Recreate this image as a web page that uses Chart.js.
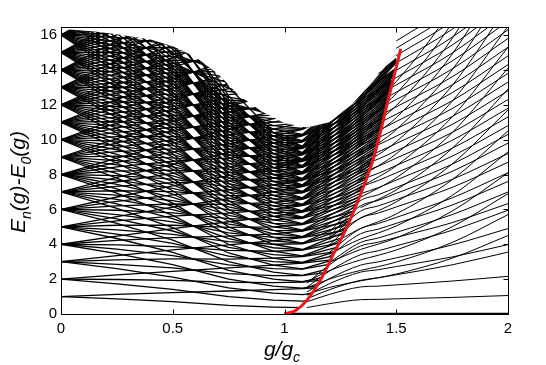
<!DOCTYPE html>
<html>
<head>
<meta charset="utf-8">
<script src="https://cdn.jsdelivr.net/npm/chart.js@4.4.1/dist/chart.umd.min.js"></script>
<style>
html, body { margin: 0; padding: 0; background: #fff; }
</style>
</head>
<body>
<canvas id="myChart" width="546" height="365"></canvas>
<script>
// g/gc values where the spectrum lines were read (left part, normal phase)
var gLeft = [0, 0.25, 0.5, 0.75, 0.95, 1.08, 1.25, 1.5];

// lines grouped by the level they leave from (photon-like excitations 0..16)
var up0 = [
  [1,0.87,0.71,0.5,0.4,0.37,0.46,0.6],
  [2,1.73,1.41,1,0.8,0.74,0.92,1.2],
  [3,2.6,2.12,1.5,1.2,1.11,1.38,1.8],
  [4,3.46,2.83,2,1.6,1.48,1.84,2.4],
  [5,4.33,3.54,2.5,2,1.85,2.3,3],
  [6,5.2,4.24,3,2.4,2.22,2.76,3.6],
  [7,6.06,4.95,3.5,2.8,2.59,3.22,4.2],
  [8,6.93,5.66,4,3.2,2.96,3.68,4.8],
  [9,7.79,6.36,4.5,3.6,3.33,4.14,5.4],
  [10,8.66,7.07,5,4,3.7,4.6,6],
  [11,9.53,7.78,5.5,4.4,4.07,5.06,6.6],
  [12,10.39,8.48,6,4.8,4.44,5.52,7.2],
  [13,11.26,9.19,6.5,5.2,4.81,5.98,7.8],
  [14,12.12,9.9,7,5.6,5.18,6.44,8.4],
  [15,12.99,10.61,7.5,6,5.55,6.9,9],
  [16,13.86,11.31,8,6.4,5.92,7.36,9.6],
  [17,14.72,12.02,8.5,6.8,6.29,7.82,10.2],
  [18,15.59,12.73,9,7.2,6.66,8.28,10.8],
  [19,16.45,13.43,9.5,7.6,7.03,8.74,11.4],
  [20,17.32,14.14,10,8,7.4,9.2,12],
  [21,18.19,14.85,10.5,8.4,7.77,9.66,12.6],
  [22,19.05,15.55,11,8.8,8.14,10.12,13.2],
  [23,19.92,16.26,11.5,9.2,8.51,10.58,13.8],
  [24,20.78,16.97,12,9.6,8.88,11.04,14.4],
  [25,21.65,17.68,12.5,10,9.25,11.5,15],
  [26,22.52,18.38,13,10.4,9.62,11.96,15.6]
];
var up1 = [
  [1,1.12,1.23,1.32,1.4,1.46,1.58,1.85],
  [2,1.98,1.93,1.82,1.8,1.83,2.04,2.45],
  [3,2.85,2.64,2.32,2.2,2.2,2.5,3.05],
  [4,3.72,3.35,2.82,2.6,2.57,2.96,3.65],
  [5,4.58,4.05,3.32,3,2.94,3.42,4.25],
  [6,5.45,4.76,3.82,3.4,3.31,3.88,4.85],
  [7,6.32,5.47,4.32,3.8,3.68,4.34,5.45],
  [8,7.18,6.17,4.82,4.2,4.05,4.8,6.05],
  [9,8.05,6.88,5.32,4.6,4.42,5.26,6.65],
  [10,8.91,7.59,5.82,5,4.79,5.72,7.25],
  [11,9.78,8.3,6.32,5.4,5.16,6.18,7.85],
  [12,10.65,9,6.82,5.8,5.53,6.64,8.45],
  [13,11.51,9.71,7.32,6.2,5.9,7.1,9.05],
  [14,12.38,10.42,7.82,6.6,6.27,7.56,9.65],
  [15,13.24,11.12,8.32,7,6.64,8.02,10.25],
  [16,14.11,11.83,8.82,7.4,7.01,8.48,10.85],
  [17,14.98,12.54,9.32,7.8,7.38,8.94,11.45],
  [18,15.84,13.24,9.82,8.2,7.75,9.4,12.05],
  [19,16.71,13.95,10.32,8.6,8.12,9.86,12.65],
  [20,17.57,14.66,10.82,9,8.49,10.32,13.25],
  [21,18.44,15.37,11.32,9.4,8.86,10.78,13.85],
  [22,19.3,16.07,11.82,9.8,9.23,11.24,14.45],
  [23,20.17,16.78,12.32,10.2,9.6,11.7,15.05]
];
var up2 = [
  [2,2.24,2.45,2.65,2.8,2.92,3.16,3.7],
  [3,3.1,3.16,3.15,3.2,3.29,3.62,4.3],
  [4,3.97,3.86,3.65,3.6,3.66,4.08,4.9],
  [5,4.83,4.57,4.15,4,4.03,4.54,5.5],
  [6,5.7,5.28,4.65,4.4,4.4,5,6.1],
  [7,6.57,5.99,5.15,4.8,4.77,5.46,6.7],
  [8,7.43,6.69,5.65,5.2,5.14,5.92,7.3],
  [9,8.3,7.4,6.15,5.6,5.51,6.38,7.9],
  [10,9.16,8.11,6.65,6,5.88,6.84,8.5],
  [11,10.03,8.81,7.15,6.4,6.25,7.3,9.1],
  [12,10.9,9.52,7.65,6.8,6.62,7.76,9.7],
  [13,11.76,10.23,8.15,7.2,6.99,8.22,10.3],
  [14,12.63,10.93,8.65,7.6,7.36,8.68,10.9],
  [15,13.49,11.64,9.15,8,7.73,9.14,11.5],
  [16,14.36,12.35,9.65,8.4,8.1,9.6,12.1],
  [17,15.23,13.06,10.15,8.8,8.47,10.06,12.7],
  [18,16.09,13.76,10.65,9.2,8.84,10.52,13.3],
  [19,16.96,14.47,11.15,9.6,9.21,10.98,13.9],
  [20,17.82,15.18,11.65,10,9.58,11.44,14.5],
  [21,18.69,15.88,12.15,10.4,9.95,11.9,15.1]
];
var up3 = [
  [3,3.35,3.68,3.97,4.2,4.38,4.74,5.55],
  [4,4.22,4.38,4.47,4.6,4.75,5.2,6.15],
  [5,5.09,5.09,4.97,5,5.12,5.66,6.75],
  [6,5.95,5.8,5.47,5.4,5.49,6.12,7.35],
  [7,6.82,6.5,5.97,5.8,5.86,6.58,7.95],
  [8,7.68,7.21,6.47,6.2,6.23,7.04,8.55],
  [9,8.55,7.92,6.97,6.6,6.6,7.5,9.15],
  [10,9.42,8.62,7.47,7,6.97,7.96,9.75],
  [11,10.28,9.33,7.97,7.4,7.34,8.42,10.35],
  [12,11.15,10.04,8.47,7.8,7.71,8.88,10.95],
  [13,12.01,10.75,8.97,8.2,8.08,9.34,11.55],
  [14,12.88,11.45,9.47,8.6,8.45,9.8,12.15],
  [15,13.75,12.16,9.97,9,8.82,10.26,12.75],
  [16,14.61,12.87,10.47,9.4,9.19,10.72,13.35],
  [17,15.48,13.57,10.97,9.8,9.56,11.18,13.95],
  [18,16.34,14.28,11.47,10.2,9.93,11.64,14.55],
  [19,17.21,14.99,11.97,10.6,10.3,12.1,15.15]
];
var up4 = [
  [4,4.47,4.9,5.29,5.6,5.84,6.32,7.4],
  [5,5.34,5.61,5.79,6,6.21,6.78,8],
  [6,6.2,6.31,6.29,6.4,6.58,7.24,8.6],
  [7,7.07,7.02,6.79,6.8,6.95,7.7,9.2],
  [8,7.94,7.73,7.29,7.2,7.32,8.16,9.8],
  [9,8.8,8.44,7.79,7.6,7.69,8.62,10.4],
  [10,9.67,9.14,8.29,8,8.06,9.08,11],
  [11,10.53,9.85,8.79,8.4,8.43,9.54,11.6],
  [12,11.4,10.56,9.29,8.8,8.8,10,12.2],
  [13,12.27,11.26,9.79,9.2,9.17,10.46,12.8],
  [14,13.13,11.97,10.29,9.6,9.54,10.92,13.4],
  [15,14,12.68,10.79,10,9.91,11.38,14],
  [16,14.86,13.38,11.29,10.4,10.28,11.84,14.6],
  [17,15.73,14.09,11.79,10.8,10.65,12.3,15.2]
];
var up5 = [
  [5,5.59,6.13,6.62,7,7.3,7.9,9.25],
  [6,6.46,6.83,7.12,7.4,7.67,8.36,9.85],
  [7,7.32,7.54,7.62,7.8,8.04,8.82,10.45],
  [8,8.19,8.25,8.12,8.2,8.41,9.28,11.05],
  [9,9.05,8.95,8.62,8.6,8.78,9.74,11.65],
  [10,9.92,9.66,9.12,9,9.15,10.2,12.25],
  [11,10.79,10.37,9.62,9.4,9.52,10.66,12.85],
  [12,11.65,11.07,10.12,9.8,9.89,11.12,13.45],
  [13,12.52,11.78,10.62,10.2,10.26,11.58,14.05],
  [14,13.38,12.49,11.12,10.6,10.63,12.04,14.65],
  [15,14.25,13.2,11.62,11,11,12.5,15.25],
  [16,15.12,13.9,12.12,11.4,11.37,12.96,15.85]
];
var up6 = [
  [6,6.71,7.35,7.94,8.4,8.76,9.48,11.1],
  [7,7.57,8.06,8.44,8.8,9.13,9.94,11.7],
  [8,8.44,8.76,8.94,9.2,9.5,10.4,12.3],
  [9,9.31,9.47,9.44,9.6,9.87,10.86,12.9],
  [10,10.17,10.18,9.94,10,10.24,11.32,13.5],
  [11,11.04,10.89,10.44,10.4,10.61,11.78,14.1],
  [12,11.9,11.59,10.94,10.8,10.98,12.24],
  [13,12.77,12.3,11.44,11.2,11.35],
  [14,13.64,13.01,11.94,11.6,11.72],
  [15,14.5,13.71,12.44,12,12.09],
  [16,15.37,14.42,12.94,12.4]
];
var up7 = [
  [7,7.83,8.58,9.26,9.8,10.22,11.06,12.95],
  [8,8.69,9.28,9.76,10.2,10.59,11.52,13.55],
  [9,9.56,9.99,10.26,10.6,10.96,11.98],
  [10,10.42,10.7,10.76,11,11.33],
  [11,11.29,11.4,11.26,11.4,11.7],
  [12,12.16,12.11,11.76,11.8,12.07],
  [13,13.02,12.82,12.26,12.2],
  [14,13.89,13.52,12.76,12.6],
  [15,14.75,14.23,13.26,13],
  [16,15.62,14.94,13.76,13.4]
];
var up8 = [
  [8,8.94,9.8,10.58,11.2,11.68],
  [9,9.81,10.51,11.08,11.6],
  [10,10.68,11.21,11.58,12],
  [11,11.54,11.92,12.08,12.4],
  [12,12.41,12.63,12.58,12.8],
  [13,13.27,13.34,13.08],
  [14,14.14,14.04,13.58],
  [15,15.01,14.75,14.08],
  [16,15.87,15.46,14.58]
];
var up9 = [
  [9,10.06,11.03,11.91,12.6],
  [10,10.93,11.73,12.41],
  [11,11.79,12.44,12.91],
  [12,12.66,13.15,13.41],
  [13,13.53,13.85,13.91],
  [14,14.39,14.56,14.41],
  [15,15.26,15.27,14.91],
  [16,16.12,15.97,15.41]
];
var up10 = [
  [10,11.18,12.25,13.23],
  [11,12.05,12.96,13.73],
  [12,12.91,13.66,14.23],
  [13,13.78,14.37,14.73],
  [14,14.64,15.08,15.23],
  [15,15.51,15.79,15.73],
  [16,16.38,16.49,16.23]
];
var up11 = [
  [11,12.3,13.48,14.55],
  [12,13.16,14.18,15.05],
  [13,14.03,14.89,15.55],
  [14,14.9,15.6,16.05],
  [15,15.76,16.3,16.55],
  [16,16.63,17.01]
];
var up12 = [
  [12,13.42,14.7,15.88],
  [13,14.28,15.41],
  [14,15.15,16.11],
  [15,16.01,16.82],
  [16,16.88,17.53]
];
var up13 = [
  [13,14.53,15.93],
  [14,15.4,16.63],
  [15,16.27,17.34],
  [16,17.13,18.05]
];
var up14 = [[14,15.65,17.15],[15,16.52,17.86],[16,17.39,18.56]];
var up15 = [[15,16.77,18.38],[16,17.64,19.08]];
var up16 = [[16,17.89,19.6]];

// right part (past the red curve), sparse lines
var gRight = [1.1, 1.2, 1.34, 1.42, 1.5, 1.75, 2.0];
var slowSet = [
  [0.37,0.59,0.82,0.84,0.87,0.95,1.06],
  [0.7,1.12,1.55,1.6,1.67,1.89,2.16],
  [0.87,1.39,1.93,2.08,2.25,2.82,3.55],
  [1.08,1.73,2.4,2.54,2.72,3.27,3.98],
  [1.26,2.02,2.8,2.99,3.22,3.96,4.9],
  [1.53,2.45,3.4,3.63,3.91,4.8,5.95],
  [1.76,2.81,3.9,4.12,4.39,5.24,6.33],
  [null,2.95,4.1,4.36,4.68,5.7,7],
  [null,3.31,4.6,4.87,5.2,6.25,7.6],
  [null,3.53,4.9,5.19,5.54,6.66,8.1],
  [null,3.96,5.5,5.79,6.14,7.26,8.7],
  [null,4.25,5.9,6.2,6.56,7.72,9.2],
  [null,4.46,6.2,6.52,6.92,8.18,9.8],
  [null,4.68,6.5,6.84,7.26,8.59,10.3],
  [null,null,6.9,7.25,7.68,9.05,10.8],
  [null,null,7.3,7.66,8.1,9.5,11.3],
  [null,null,7.7,8.07,8.52,9.96,11.8],
  [null,null,8.1,8.48,8.94,10.41,12.3],
  [null,null,8.5,8.89,9.36,10.87,12.8],
  [null,null,8.9,9.3,9.78,11.32,13.3],
  [null,null,9.3,9.71,10.2,11.78,13.8],
  [null,null,9.7,10.11,10.62,12.23,14.3],
  [null,null,null,10.52,11.04,12.69,14.8],
  [null,null,null,10.93,11.46,13.14,15.3],
  [null,null,null,11.34,11.88,13.6,15.8],
  [null,null,null,11.75,12.3,14.05,16.3],
  [null,null,null,12.16,12.72,14.51,16.8],
  [null,null,null,12.57,13.14,14.96,17.3],
  [null,null,null,12.98,13.56,15.42,17.8],
  [null,null,null,13.39,13.98,15.87,18.3],
  [null,null,null,13.8,14.4,16.33,18.8],
  [null,null,null,null,14.82,16.78,19.3],
  [null,null,null,null,15.24,17.24,19.8],
  [null,null,null,null,15.66,17.69,20.3]
];
var steepSet = [
  [1.14,1.52,1.9,2.08,2.29,3.2,4.5],
  [1.5,2,2.5,2.72,2.98,4.1,5.7],
  [1.86,2.48,3.1,3.37,3.67,5,6.9],
  [null,2.96,3.7,4.01,4.36,5.9,8.1],
  [null,3.44,4.3,4.65,5.05,6.8,9.3],
  [null,3.92,4.9,5.29,5.74,7.7,10.5],
  [null,4.4,5.5,5.93,6.43,8.6,11.7],
  [null,null,6.1,6.58,7.12,9.5,12.9],
  [null,null,6.7,7.22,7.81,10.4,14.1],
  [null,null,7.3,7.86,8.5,11.3,15.3],
  [null,null,7.9,8.5,9.19,12.2,16.5],
  [null,null,8.5,9.14,9.88,13.1,17.7],
  [null,null,9.1,9.79,10.57,14,18.9],
  [null,null,null,10.43,11.26,14.9,20.1],
  [null,null,null,11.07,11.95,15.8,21.3],
  [null,null,null,11.71,12.64,16.7,22.5],
  [null,null,null,12.35,13.33,17.6,23.7]
];
// the ground-state partner that sits on zero past the transition
var zeroG = [1.0, 2.0];
var zeroE = [0, 0];

// red curve
var redG = [1.0, 1.05, 1.1, 1.16, 1.22, 1.28, 1.33, 1.4, 1.47, 1.52];
var redE = [0, 0.2, 0.78, 1.93, 3.46, 4.99, 6.52, 9.0, 12.6, 15.2];

// upper edge of the computed levels
var envG = [0, 0.05, 0.15, 0.25, 0.4, 0.5, 0.6, 0.7, 0.8, 0.9, 1.0, 1.1, 1.2, 1.3, 1.4, 1.5, 1.52, 1.54, 2.0];
var envE = [16.35, 16.3, 16.2, 16.05, 15.75, 15.35, 14.75, 13.8, 12.5, 11.6, 10.95, 10.7, 11.0, 12.0, 13.4, 14.95, 15.3, 17, 17];

var xTicks = [0, 0.5, 1, 1.5, 2];
var yTicks = [0, 2, 4, 6, 8, 10, 12, 14, 16];
var yTop = 16.46;

function pts(xs, ys) {
  return ys.map(function (v, i) { return { x: xs[i], y: v }; });
}

var datasets = [];
[up0, up1, up2, up3, up4, up5, up6, up7, up8, up9, up10, up11, up12, up13, up14, up15, up16].forEach(function (group) {
  group.forEach(function (row) {
    datasets.push({ data: pts(gLeft, row), borderColor: '#000', borderWidth: 1.3, order: 10 });
  });
});
datasets.push({
  data: pts(envG, envE), borderWidth: 0, borderColor: 'rgba(0,0,0,0)',
  backgroundColor: '#fff', fill: 'end', order: 6
});
datasets.push({
  data: pts(redG, redE).concat([{ x: 1.521, y: 17 }, { x: 2, y: 17 }]),
  borderWidth: 0, borderColor: 'rgba(0,0,0,0)', backgroundColor: '#fff', fill: 'start', order: 5
});
[slowSet, steepSet].forEach(function (group) {
  group.forEach(function (row) {
    datasets.push({ data: pts(gRight, row), borderColor: '#000', borderWidth: 1,
      cubicInterpolationMode: 'monotone', order: 3 });
  });
});
datasets.push({ data: pts(zeroG, zeroE), borderColor: '#000', borderWidth: 2.5, order: 2 });
datasets.push({ data: pts(redG, redE), borderColor: '#e3191c', borderWidth: 3,
  cubicInterpolationMode: 'monotone', order: 1 });

var frame = {
  id: 'frame',
  afterDatasetsDraw: function (chart) {
    var ctx = chart.ctx, a = chart.chartArea, x = chart.scales.x, y = chart.scales.y;
    ctx.save();
    ctx.strokeStyle = '#000';
    ctx.lineWidth = 1;
    var l = Math.round(a.left) + 0.5, r = Math.round(a.right) + 0.5;
    var t = Math.round(a.top) + 0.5, b = Math.round(a.bottom) + 0.5;
    ctx.strokeRect(l, t, r - l, b - t);
    ctx.beginPath();
    xTicks.forEach(function (v) {
      var px = Math.round(x.getPixelForValue(v)) + 0.5;
      ctx.moveTo(px, b); ctx.lineTo(px, b - 5);
      ctx.moveTo(px, t); ctx.lineTo(px, t + 5);
    });
    yTicks.forEach(function (v) {
      var py = Math.round(y.getPixelForValue(v)) + 0.5;
      ctx.moveTo(l, py); ctx.lineTo(l + 5, py);
      ctx.moveTo(r, py); ctx.lineTo(r - 5, py);
    });
    ctx.stroke();
    ctx.restore();
  }
};

function richText(ctx, parts, cx, base) {
  var big = 'italic 21px "Liberation Sans", Arial, sans-serif';
  var small = 'italic 14px "Liberation Sans", Arial, sans-serif';
  var w = 0;
  parts.forEach(function (p) { ctx.font = p[1] ? small : big; w += ctx.measureText(p[0]).width; });
  var xx = cx - w / 2;
  parts.forEach(function (p) {
    ctx.font = p[1] ? small : big;
    ctx.fillText(p[0], xx, base + (p[1] ? 6 : 0));
    xx += ctx.measureText(p[0]).width;
  });
}

var titles = {
  id: 'titles',
  afterDraw: function (chart) {
    var ctx = chart.ctx;
    ctx.save();
    ctx.fillStyle = '#000';
    ctx.textAlign = 'left';
    ctx.textBaseline = 'alphabetic';
    richText(ctx, [['g/g', 0], ['c', 1]], 282, 356);
    ctx.translate(25, 182);
    ctx.rotate(-Math.PI / 2);
    richText(ctx, [['E', 0], ['n', 1], ['(g)-E', 0], ['0', 1], ['(g)', 0]], 0, 0);
    ctx.restore();
  }
};

var tickFont = { family: '"Liberation Sans", Arial, sans-serif', size: 15 };

new Chart(document.getElementById('myChart').getContext('2d'), {
  type: 'line',
  data: { datasets: datasets },
  options: {
    responsive: false,
    animation: false,
    events: [],
    layout: { padding: { top: 27, right: 38, left: 0, bottom: 0 } },
    elements: { point: { radius: 0 }, line: { tension: 0, fill: false } },
    plugins: { legend: { display: false }, tooltip: { enabled: false } },
    scales: {
      x: {
        type: 'linear', min: 0, max: 2,
        grid: { display: false, drawTicks: false, tickLength: 0 },
        border: { display: false },
        afterBuildTicks: function (s) { s.ticks = xTicks.map(function (v) { return { value: v }; }); },
        afterFit: function (s) { s.height = 51; },
        ticks: { color: '#000', font: tickFont, padding: 6, maxRotation: 0,
          callback: function (v) { return String(v); } }
      },
      y: {
        type: 'linear', min: 0, max: yTop,
        grid: { display: false, drawTicks: false, tickLength: 0 },
        border: { display: false },
        afterBuildTicks: function (s) { s.ticks = yTicks.map(function (v) { return { value: v }; }); },
        afterFit: function (s) { s.width = 61; },
        ticks: { color: '#000', font: tickFont, padding: 4,
          callback: function (v) { return String(v); } }
      }
    }
  },
  plugins: [frame, titles]
});
</script>
</body>
</html>
